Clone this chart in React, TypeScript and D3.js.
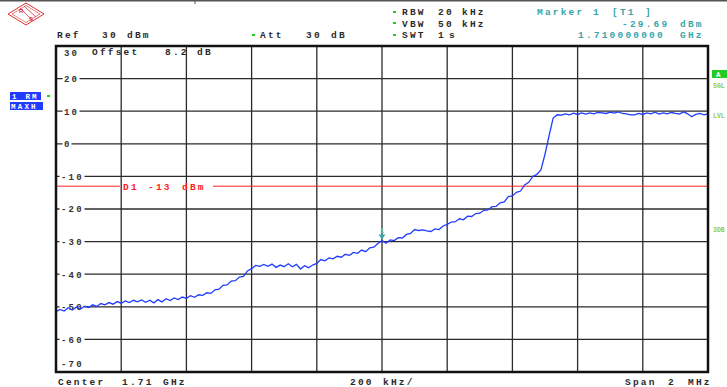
import React from 'react';
import * as d3 from 'd3';

const W = 727;
const H = 387;

// Axis definition (dBm / kHz offset from center)
const LEVEL_TOP = 30;
const LEVEL_BOTTOM = -70;
const Y_TICKS = [30, 20, 10, 0, -10, -20, -30, -40, -50, -60, -70];
const X_GRID_KHZ = [-1000, -800, -600, -400, -200, 0, 200, 400, 600, 800, 1000];
const D1_LEVEL = -13;
const MARKER_FREQ = 0;
const MARKER_LEVEL = -29.69;
const STEP_KHZ = 12.5;

// Trace 1 (max hold), dBm, sampled every 12.5 kHz from -1000 kHz to +1000 kHz
const TRACE_DBM = [
  -51.5, -50.8, -51.3, -50.3, -51.0, -50.1, -50.7, -49.8, -50.2, -49.4,
  -49.9, -49.0, -49.4, -48.7, -49.2, -48.4, -48.9, -48.2, -48.7, -48.0,
  -48.5, -47.9, -48.6, -48.0, -48.8, -47.8, -48.5, -47.5, -48.1, -47.3,
  -47.8, -47.0, -47.4, -46.6, -47.1, -46.3, -46.5, -45.7, -45.9, -44.8,
  -44.6, -43.4, -43.3, -42.1, -42.0, -40.9, -40.7, -39.0, -38.3, -37.3,
  -37.6, -37.0, -37.6, -36.9, -37.9, -37.2, -37.7, -36.8, -37.7, -37.0,
  -38.4, -37.4, -38.0, -37.2, -36.7, -35.5, -35.9, -35.0, -35.3, -34.5,
  -34.8, -33.9, -34.2, -33.3, -33.6, -32.6, -33.1, -31.9, -31.7, -30.6,
  -29.69, -30.5, -29.5, -29.7, -28.8, -28.9, -27.8, -27.5, -26.3, -26.6,
  -26.4, -26.7, -26.9, -26.1, -26.3, -25.2, -24.7, -24.0, -23.9, -23.0,
  -23.3, -22.2, -22.3, -21.4, -21.3, -20.4, -20.3, -19.3, -19.2, -18.1,
  -17.8, -16.2, -16.0, -14.9, -14.5, -12.6, -11.8, -10.0, -9.4, -8.0,
  -3.2, 2.5, 7.9, 8.9, 8.8, 9.2, 8.9, 9.4, 9.0, 9.5,
  9.1, 9.5, 9.2, 9.6, 9.5, 9.3, 9.7, 9.4, 9.8, 9.3,
  9.2, 8.9, 8.9, 9.3, 9.0, 9.5, 9.2, 9.7, 9.1, 9.5,
  9.2, 9.6, 9.3, 9.1, 9.8, 9.2, 8.3, 9.0, 9.3, 8.9,
  9.2,
];

const MONO = "'Liberation Mono', 'DejaVu Sans Mono', monospace";
const TEAL = '#3aa6a6';
const BLUE = '#1f3cff';
const GREEN = '#22cc22';
const LIGHTGREEN = '#9acd32';
const RED = '#ff2020';

const PLOT = { left: 56, right: 708, top: 46, bottom: 372 };

type TProps = { x: number; y: number; fill?: string; children: React.ReactNode; size?: number; spacing?: number };
const T = ({ x, y, fill = '#2a2a2a', children, size = 9.5, spacing = 2.2 }: TProps) => (
  <text
    x={x}
    y={y}
    fill={fill}
    fontFamily={MONO}
    fontWeight="bold"
    fontSize={size}
    letterSpacing={spacing}
    style={{ whiteSpace: 'pre' }}
  >
    {children}
  </text>
);

export default function App() {
  const x = d3.scaleLinear().domain([-1000, 1000]).range([PLOT.left, PLOT.right]);
  const y = d3.scaleLinear().domain([LEVEL_BOTTOM, LEVEL_TOP]).range([PLOT.bottom, PLOT.top]);

  const points: [number, number][] = TRACE_DBM.map((v, i) => [-1000 + i * STEP_KHZ, v]);
  const line = d3
    .line<[number, number]>()
    .x((d) => x(d[0]))
    .y((d) => y(d[1]));

  const mx = x(MARKER_FREQ);
  const my = y(MARKER_LEVEL);
  const d1y = y(D1_LEVEL);

  return (
    <svg
      width={W}
      height={H}
      viewBox={`0 0 ${W} ${H}`}
      style={{ position: 'absolute', left: 0, top: 0, background: '#fff' }}
    >
      <rect x={0} y={0} width={W} height={H} fill="#fff" />
      {/* top border */}
      <line x1={0} x2={W} y1={0.6} y2={0.6} stroke="#555" strokeWidth={1.6} />
      <line x1={195} x2={195} y1={0} y2={4} stroke="#555" strokeWidth={1} />

      {/* R&S logo */}
      <g transform="translate(26,14)" stroke="#e03030" fill="none" strokeWidth={1}>
        <path d="M-18,0 L0,-11 L18,0 L0,11 Z" />
        <path d="M-14,0 L0,-8.5 L14,0 L0,8.5 Z" strokeWidth={0.6} />
        <path d="M-6,-6 L6,6 M-2,-8 L10,3" strokeWidth={0.8} />
        <text x={-7} y={-1} fontSize={6} fill="#e03030" stroke="none" fontFamily="Liberation Sans" fontWeight="bold">R</text>
        <text x={3} y={7} fontSize={6} fill="#e03030" stroke="none" fontFamily="Liberation Sans" fontWeight="bold">S</text>
      </g>

      {/* header */}
      <T x={57} y={38}>Ref</T>
      <T x={102} y={38}>30</T>
      <T x={127} y={38}>dBm</T>
      <rect x={252} y={34} width={3} height={2} fill={GREEN} />
      <T x={260} y={38}>Att</T>
      <T x={306} y={38}>30</T>
      <T x={331} y={38}>dB</T>

      <rect x={393} y={11} width={3} height={2} fill={GREEN} />
      <T x={402} y={15}>RBW</T>
      <T x={438} y={15}>20</T>
      <T x={462} y={15}>kHz</T>
      <rect x={393} y={22} width={3} height={2} fill={GREEN} />
      <T x={402} y={27}>VBW</T>
      <T x={438} y={27}>50</T>
      <T x={462} y={27}>kHz</T>
      <rect x={393} y={34} width={3} height={2} fill={GREEN} />
      <T x={402} y={38}>SWT</T>
      <T x={438} y={38}>1</T>
      <T x={449} y={38}>s</T>

      <T x={537} y={15} fill={TEAL}>Marker</T>
      <T x={593} y={15} fill={TEAL}>1</T>
      <T x={612} y={15} fill={TEAL}>[T1</T>
      <T x={645} y={15} fill={TEAL}>]</T>
      <T x={622} y={27} fill={TEAL}>-29.69</T>
      <T x={680} y={27} fill={TEAL}>dBm</T>
      <T x={578} y={38} fill={TEAL}>1.710000000</T>
      <T x={680} y={38} fill={TEAL}>GHz</T>

      {/* left side trace info */}
      <rect x={10} y={92} width={31} height={8} fill={BLUE} />
      <T x={12} y={99} fill="#fff" size={7.5}>1 RM</T>
      <rect x={10} y={102} width={33} height={8} fill={BLUE} />
      <T x={11} y={109} fill="#fff" size={7.5}>MAXH</T>
      <rect x={47} y={95} width={3} height={2} fill={GREEN} />

      {/* right side indicators */}
      <rect x={712} y={70} width={15} height={8} fill={GREEN} />
      <T x={716} y={77} fill="#fff" size={7.5}>A</T>
      <T x={713} y={88} fill={LIGHTGREEN} size={6.5} spacing={0}>SGL</T>
      <T x={713} y={118} fill={LIGHTGREEN} size={6.5} spacing={0}>LVL</T>
      <T x={713} y={232} fill={LIGHTGREEN} size={6.5} spacing={0}>3DB</T>

      {/* grid */}
      {Y_TICKS.filter((v) => v !== LEVEL_TOP && v !== LEVEL_BOTTOM).map((v) => (
        <line key={'h' + v} x1={PLOT.left} x2={PLOT.right} y1={y(v)} y2={y(v)} stroke="#2b2b2b" strokeWidth={1.3} />
      ))}
      {X_GRID_KHZ.filter((f) => f !== -1000 && f !== 1000).map((f) => (
        <line key={'v' + f} x1={x(f)} x2={x(f)} y1={PLOT.top} y2={PLOT.bottom} stroke="#2b2b2b" strokeWidth={1.3} />
      ))}

      {/* display line D1 */}
      <line x1={PLOT.left} x2={120} y1={d1y} y2={d1y} stroke={RED} strokeWidth={1} />
      <line x1={213} x2={PLOT.right} y1={d1y} y2={d1y} stroke={RED} strokeWidth={1} />
      <T x={123} y={d1y + 3.5} fill={RED}>D1</T>
      <T x={148} y={d1y + 3.5} fill={RED}>-13</T>
      <T x={182} y={d1y + 3.5} fill={RED}>dBm</T>

      {/* y labels */}
      {Y_TICKS.map((v) => {
        const cy = v === LEVEL_TOP ? y(v) + 7 : v === LEVEL_BOTTOM ? y(v) - 8 : y(v);
        const label = String(v);
        const w = label.length * 8;
        const lx = v < 0 ? 61 : 64;
        return (
          <g key={'yl' + v}>
            <rect x={lx - 1.5} y={cy - 4} width={w + 1} height={8} fill="#fff" />
            <T x={lx} y={cy + 3.3} fill="#333" size={9}>
              {label}
            </T>
          </g>
        );
      })}

      <T x={92} y={55}>Offset</T>
      <T x={165} y={55}>8.2</T>
      <T x={197} y={55}>dB</T>

      {/* trace */}
      <path d={line(points) || ''} fill="none" stroke={BLUE} strokeWidth={1.3} strokeLinejoin="miter" />

      {/* marker */}
      <path d={`M${mx - 3.5},${my - 6} L${mx + 3.5},${my - 6} L${mx},${my - 1} Z`} fill={TEAL} />
      <text x={mx} y={my - 8} fontSize={7} fill="#5cc" textAnchor="middle" fontFamily={MONO} fontWeight="bold">1</text>

      {/* frame */}
      <rect
        x={PLOT.left}
        y={PLOT.top}
        width={PLOT.right - PLOT.left}
        height={PLOT.bottom - PLOT.top}
        fill="none"
        stroke="#111"
        strokeWidth={2.5}
      />

      {/* bottom annotations */}
      <T x={58} y={385}>Center</T>
      <T x={122} y={385}>1.71</T>
      <T x={163} y={385}>GHz</T>
      <T x={350} y={385}>200</T>
      <T x={383} y={385}>kHz/</T>
      <T x={625} y={385}>Span</T>
      <T x={668} y={385}>2</T>
      <T x={688} y={385}>MHz</T>
    </svg>
  );
}
